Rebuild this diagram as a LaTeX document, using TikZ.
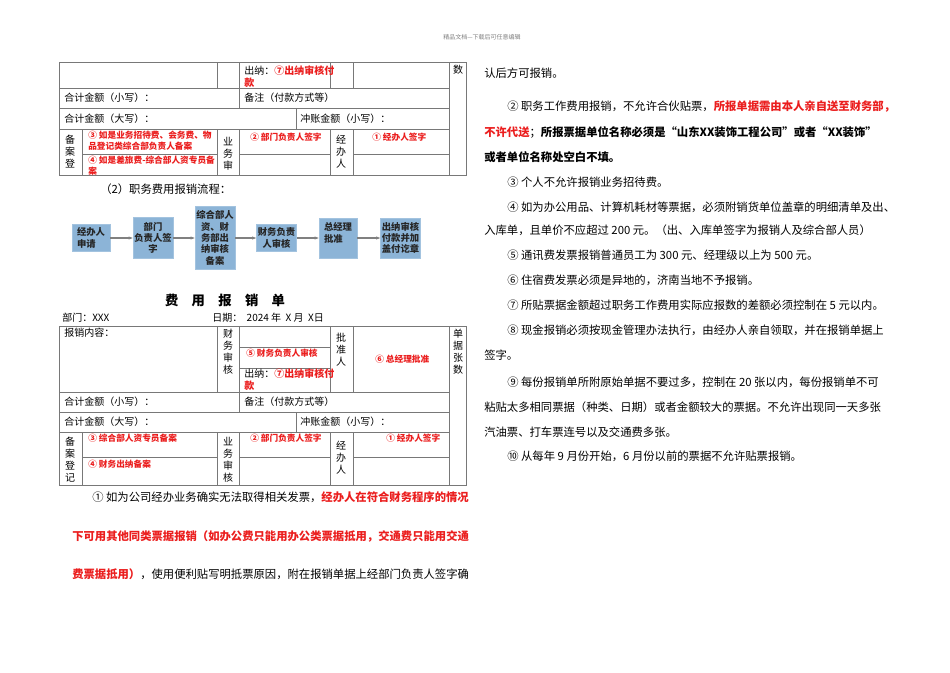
\documentclass[tikz,border=0pt]{standalone}
\usepackage{fontspec}
\setmainfont{Noto Sans CJK SC}
\usetikzlibrary{arrows.meta}
\definecolor{gridc}{RGB}{120,120,120}
\definecolor{boxc}{RGB}{140,180,215}
\definecolor{redt}{RGB}{235,30,30}
\newcommand{\rb}[1]{{\bfseries\color{redt}#1}}
\tikzset{
 grid/.style={draw=gridc,line width=0.6pt},
 cell/.style={anchor=west,inner sep=0pt,font=\fontsize{7.5}{9}\selectfont},
 redcell/.style={anchor=west,inner sep=0pt,font=\fontsize{6.5}{8}\selectfont\bfseries,text=redt},
 vert/.style={inner sep=0pt,align=center,font=\fontsize{7.5}{9}\selectfont},
 para/.style={anchor=west,inner sep=0pt,font=\fontsize{8.5}{10}\selectfont},
 flow/.style={fill=boxc,draw=boxc!80!white,inner sep=1pt,align=center,minimum width=28.5pt,font=\fontsize{7}{8.5}\selectfont\bfseries,text=black!85},
 farrow/.style={draw=gray,line width=0.8pt,-{Stealth[length=3pt]}},
}
\begin{document}
\begin{tikzpicture}[x=0.75pt,y=-0.75pt]
\useasboundingbox (0,0) rectangle (950,672);
\fill[white] (0,0) rectangle (950,672);
\node[font=\fontsize{4.5}{5}\selectfont,text=gray] (hdr) at (482,37) {精品文档---下载后可任意编辑};

% ---------- table 1 ----------
\draw[grid] (59,62) rectangle (466,175);
\draw[grid] (59,88) -- (449,88);
\draw[grid] (59,108) -- (449,108);
\draw[grid] (59,129) -- (449,129);
\draw[grid] (449,62) -- (449,175);
\draw[grid] (217,62) -- (217,88);
\draw[grid] (239,62) -- (239,108);
\draw[grid] (330,62) -- (330,88);
\draw[grid] (353,62) -- (353,88);
\draw[grid] (296,108) -- (296,129);
\draw[grid] (82,129) -- (82,175);
\draw[grid] (217,129) -- (217,175);
\draw[grid] (239,129) -- (239,175);
\draw[grid] (330,129) -- (330,175);
\draw[grid] (353,129) -- (353,175);
\draw[grid] (82,154) -- (217,154);
\draw[grid] (239,154) -- (330,154);
\draw[grid] (353,154) -- (449,154);
\node[cell,align=left,anchor=north west] (t1a) at (244,66) {出纳：\rb{⑦出纳审核付}\\\rb{款}};
\node[vert,anchor=north] (t1b) at (458,65) {数};
\node[cell] (t1c) at (64,98) {合计金额（小写）：};
\node[cell] (t1d) at (244,98) {备注（付款方式等）};
\node[cell] (t1e) at (64,119) {合计金额（大写）：};
\node[cell] (t1f) at (300,119) {冲账金额（小写）：};
\node[vert] (t1g) at (70,152) {备\\案\\登};
\node[redcell,align=left,anchor=north west] (t1h) at (88,131) {③ 如是业务招待费、会务费、物\\品登记类综合部负责人备案};
\node[redcell,align=left,anchor=north west] (t1i) at (88,156) {④ 如是差旅费-综合部人资专员备\\案};
\node[vert] (t1j) at (228,154) {业\\务\\审};
\node[redcell] (t1k) at (250,137) {② 部门负责人签字};
\node[vert] (t1l) at (341,152) {经\\办\\人};
\node[redcell] (t1m) at (372,137) {① 经办人签字};

% ---------- flow ----------
\node[para] (fl) at (100,189) {（2）职务费用报销流程：};
\node[flow,minimum height=20pt,align=left] (b1) at (91,238) {经办人\\申请};
\node[flow,minimum height=31pt] (b2) at (153,238) {部门\\负责人签\\字};
\node[flow,minimum height=47pt] (b3) at (215,238) {综合部人\\资、财\\务部出\\纳审核\\备案};
\node[flow,minimum height=20pt] (b4) at (276.5,238) {财务负责\\人审核};
\node[flow,minimum height=30pt,align=left] (b5) at (338,238) {总经理\\批准\\\phantom{x}};
\node[flow,minimum height=30pt] (b6) at (400.5,238) {出纳审核\\付款并加\\盖付讫章};
\draw[farrow] (b1) -- (b2);
\draw[farrow] (b2) -- (b3);
\draw[farrow] (b3) -- (b4);
\draw[farrow] (b4) -- (b5);
\draw[farrow] (b5) -- (b6);

% ---------- table 2 ----------
\node[font=\fontsize{10}{12}\selectfont\bfseries] (ttl) at (225,300) {费\quad 用\quad 报\quad 销\quad 单};
\node[cell] (dep) at (62,318) {部门：XXX};
\node[cell] (dat) at (212,318) {日期：\ \ 2024 年 \ X 月 \ X日};
\draw[grid] (59,326) rectangle (466,485);
\draw[grid] (59,392) -- (449,392);
\draw[grid] (59,412) -- (449,412);
\draw[grid] (59,432) -- (449,432);
\draw[grid] (449,326) -- (449,485);
\draw[grid] (217,326) -- (217,392);
\draw[grid] (239,326) -- (239,412);
\draw[grid] (330,326) -- (330,392);
\draw[grid] (353,326) -- (353,392);
\draw[grid] (239,347) -- (330,347);
\draw[grid] (239,368) -- (330,368);
\draw[grid] (296,412) -- (296,432);
\draw[grid] (82,432) -- (82,485);
\draw[grid] (217,432) -- (217,485);
\draw[grid] (239,432) -- (239,485);
\draw[grid] (330,432) -- (330,485);
\draw[grid] (353,432) -- (353,485);
\draw[grid] (82,457) -- (217,457);
\draw[grid] (239,457) -- (330,457);
\draw[grid] (353,457) -- (449,457);
\node[cell] (t2a) at (64,333) {报销内容：};
\node[vert,anchor=north] (t2b) at (228,329) {财\\务\\审\\核};
\node[redcell] (t2c) at (246,353) {⑤ 财务负责人审核};
\node[cell,align=left,anchor=north west] (t2d) at (244,369) {出纳：\rb{⑦出纳审核付}\\\rb{款}};
\node[vert] (t2e) at (341,350) {批\\准\\人};
\node[redcell] (t2f) at (375,359) {⑥ 总经理批准};
\node[vert,anchor=north] (t2g) at (458,329) {单\\据\\张\\数};
\node[cell] (t2h) at (64,402) {合计金额（小写）：};
\node[cell] (t2i) at (244,402) {备注（付款方式等）};
\node[cell] (t2j) at (64,422) {合计金额（大写）：};
\node[cell] (t2k) at (300,422) {冲账金额（小写）：};
\node[vert] (t2l) at (70,460) {备\\案\\登\\记};
\node[redcell] (t2m) at (88,438) {③ 综合部人资专员备案};
\node[redcell] (t2n) at (88,464) {④ 财务出纳备案};
\node[vert] (t2o) at (228,460) {业\\务\\审\\核};
\node[redcell] (t2p) at (250,438) {② 部门负责人签字};
\node[vert] (t2q) at (341,458) {经\\办\\人};
\node[redcell] (t2r) at (386,438) {① 经办人签字};

% ---------- bottom left paragraph ----------
\node[para] (p1) at (92,497) {① 如为公司经办业务确实无法取得相关发票，\rb{经办人在符合财务程序的情况}};
\node[para] (p2) at (72,536) {\rb{下可用其他同类票据报销（如办公费只能用办公类票据抵用，交通费只能用交通}};
\node[para] (p3) at (72,574) {\rb{费票据抵用）}，使用便利贴写明抵票原因，附在报销单据上经部门负责人签字确};

% ---------- right column ----------
\node[para] (r1) at (484,73) {认后方可报销。};
\node[para] (r2) at (507,106) {② 职务工作费用报销，不允许合伙贴票，\rb{所报单据需由本人亲自送至财务部，}};
\node[para] (r3) at (484,132) {\rb{不许代送}；\textbf{所报票据单位名称必须是“山东XX装饰工程公司”或者“XX装饰”}};
\node[para] (r4) at (484,157) {\textbf{或者单位名称处空白不填。}};
\node[para] (r5) at (507,182) {③ 个人不允许报销业务招待费。};
\node[para] (r6) at (507,207) {④ 如为办公用品、计算机耗材等票据，必须附销货单位盖章的明细清单及出、};
\node[para] (r7) at (484,230) {入库单，且单价不应超过 200 元。（出、入库单签字为报销人及综合部人员）};
\node[para] (r8) at (507,255) {⑤ 通讯费发票报销普通员工为 300 元、经理级以上为 500 元。};
\node[para] (r9) at (507,280) {⑥ 住宿费发票必须是异地的，济南当地不予报销。};
\node[para] (r10) at (507,305) {⑦ 所贴票据金额超过职务工作费用实际应报数的差额必须控制在 5 元以内。};
\node[para] (r11) at (507,330) {⑧ 现金报销必须按现金管理办法执行，由经办人亲自领取，并在报销单据上};
\node[para] (r12) at (484,355) {签字。};
\node[para] (r13) at (507,382) {⑨ 每份报销单所附原始单据不要过多，控制在 20 张以内，每份报销单不可};
\node[para] (r14) at (484,407) {粘贴太多相同票据（种类、日期）或者金额较大的票据。不允许出现同一天多张};
\node[para] (r15) at (484,432) {汽油票、打车票连号以及交通费多张。};
\node[para] (r16) at (507,456) {⑩ 从每年 9 月份开始，6 月份以前的票据不允许贴票报销。};
\end{tikzpicture}
\end{document}
